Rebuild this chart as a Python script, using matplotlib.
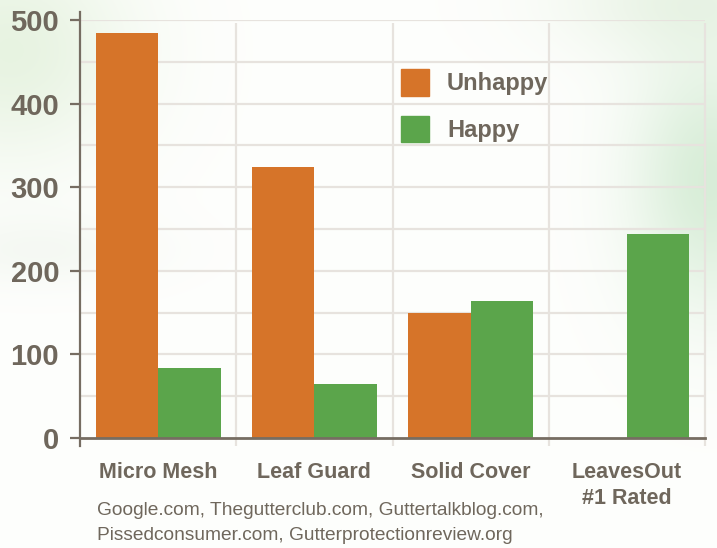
import numpy as np
import matplotlib.pyplot as plt
from matplotlib.patches import Patch

categories = ['Micro Mesh', 'Leaf Guard', 'Solid Cover', 'LeavesOut\n#1 Rated']
unhappy = [485, 324, 150, 0]
happy = [84, 65, 164, 244]
source = 'Google.com, Thegutterclub.com, Guttertalkblog.com,\nPissedconsumer.com, Gutterprotectionreview.org'

orange = '#D67429'
green = '#5BA54B'
txt = '#6F675C'
axcol = '#766D62'
gridcol = '#E7E3DE'

plt.rcParams['font.family'] = ['Liberation Sans', 'DejaVu Sans']

fig = plt.figure(figsize=(7.17, 5.48), dpi=100)

# soft leafy background
W, H = 717, 548
xx, yy = np.meshgrid(np.arange(W), np.arange(H))
bg = np.ones((H, W, 3)) * np.array([0.995, 0.997, 0.99])
def blob(cx, cy, sx, sy, col, a):
    m = a * np.exp(-(((xx - cx) / sx) ** 2 + ((yy - cy) / sy) ** 2))
    return m[..., None] * (np.array(col) - bg)
bg += blob(10, 50, 120, 110, [0.88, 0.94, 0.85], 0.75)
bg += blob(690, 0, 130, 60, [0.89, 0.94, 0.87], 0.7)
bg += blob(710, 180, 80, 130, [0.80, 0.91, 0.80], 0.75)
bg += blob(40, 250, 110, 35, [0.93, 0.955, 0.92], 0.5)
bg = np.clip(bg, 0, 1)
bgax = fig.add_axes([0, 0, 1, 1], zorder=-5)
bgax.imshow(bg, aspect='auto', extent=[0, 1, 0, 1])
bgax.axis('off')

ax = fig.add_axes([80 / W, 1 - 438 / H, 625 / W, 418 / H])
ax.patch.set_alpha(0)
x = np.arange(len(categories))
ax.bar(x + 0.3, unhappy, width=0.4, color=orange, zorder=3)
ax.bar(x + 0.7, happy, width=0.4, color=green, zorder=3)

ax.set_xlim(0, 4)
ax.set_ylim(0, 500)
for s in ax.spines.values():
    s.set_visible(False)

for v in range(50, 501, 50):
    ax.axhline(v, color=gridcol, lw=1.6, zorder=1)
ax.vlines(np.arange(1, 5), -10, 497, color=gridcol, lw=1.6, zorder=1, clip_on=False)
ax.plot([0, 0], [-10, 510], color=axcol, lw=1.6, zorder=4, clip_on=False)
ax.plot([0, 4], [0, 0], color=axcol, lw=2, zorder=4, clip_on=False)

ax.set_yticks(range(0, 501, 100))
ax.tick_params(axis='y', length=7, width=1.6, color=axcol, pad=8,
               labelsize=21, labelcolor=txt)
for t in ax.get_yticklabels():
    t.set_fontweight('bold')
ax.set_xticks(x + 0.5)
ax.set_xticklabels(categories, fontsize=15.5, fontweight='bold', color=txt,
                   linespacing=1.35)
ax.tick_params(axis='x', length=0, pad=17)

handles = [Patch(color=orange, label='Unhappy'), Patch(color=green, label='Happy')]
leg = fig.legend(handles=handles, loc='upper left', bbox_to_anchor=(401 / W, 1 - 69 / H),
                 frameon=False, fontsize=17, handlelength=1.2, handleheight=1.35,
                 handletextpad=0.75, labelspacing=0.85, borderpad=0, borderaxespad=0)
for t in leg.get_texts():
    t.set_color(txt)
    t.set_fontweight('bold')

fig.text(97 / W, 1 - 502 / H, source, fontsize=13.8, color=txt, va='top',
         linespacing=1.6)

fig.savefig('out.png', dpi=100)
